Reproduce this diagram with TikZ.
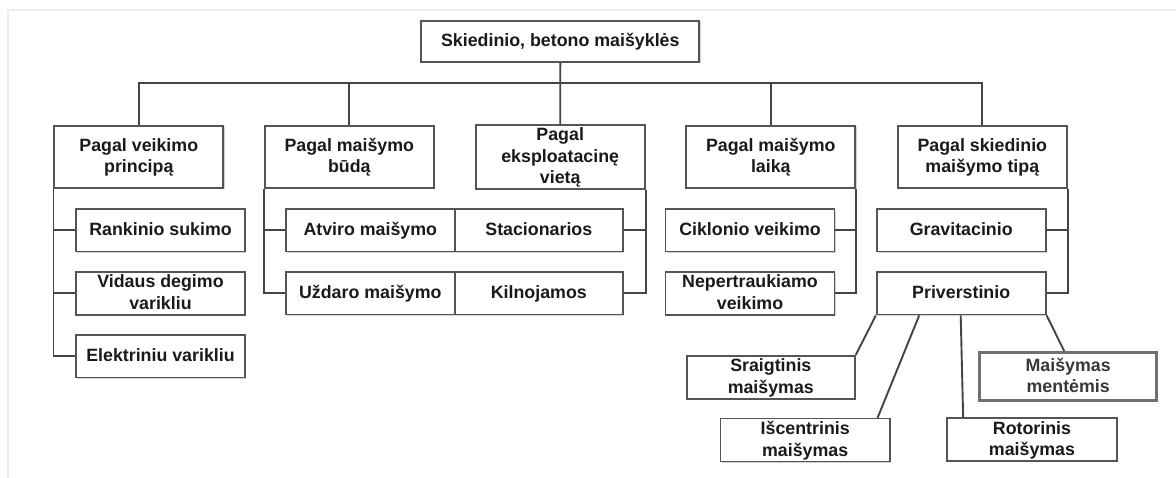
\documentclass[tikz,border=0pt]{standalone}
\usepackage{fontspec}
\setmainfont{Liberation Sans}
\usetikzlibrary{calc,shadows}
\definecolor{boxc}{HTML}{555555}
\definecolor{linec}{HTML}{444444}
\definecolor{txt}{HTML}{1A1A1A}
\definecolor{framec}{HTML}{EEEEEE}
\definecolor{mentc}{HTML}{707070}
\newcommand\mystrut{\rule[-5.4pt]{0pt}{21.4pt}}
\begin{document}
\begin{tikzpicture}[x=1pt,y=-1pt,
  box/.style={draw=boxc, line width=1.7pt, fill=white, text=txt,
    font=\fontsize{17.8pt}{21.4pt}\selectfont\bfseries, align=center,
    inner sep=0pt, minimum height=42.5pt, minimum width=169pt,
    drop shadow={shadow xshift=1.2pt, shadow yshift=-1.2pt, opacity=0.18, fill=black}},
  tall/.style={minimum height=62.6pt},
  conn/.style={draw=linec, line width=1.9pt},
  framestyle/.style={draw=framec, line width=1.5pt}
]
\useasboundingbox[fill=white] (0,0) rectangle (1176,478);
% faint frame
\coordinate (fa) at (8,10);
\coordinate (fb) at (1176,10);
\coordinate (fc) at (8,478);
\draw[framestyle] (fb) -- (fa) -- (fc);

% root
\node[box, minimum width=278pt, minimum height=41.6pt] (root) at (560.3,41.5) {\mystrut Skiedinio, betono maišyklės};

% level 1
\node[box, tall] (b1) at (138.8,157) {\mystrut Pagal veikimo\\\mystrut principą};
\node[box, tall] (b2) at (349.3,157) {\mystrut Pagal maišymo\\\mystrut būdą};
\node[box, tall] (b3) at (560.2,157) {\mystrut Pagal\\\mystrut eksploatacinę\\\mystrut vietą};
\node[box, tall] (b4) at (770.8,157) {\mystrut Pagal maišymo\\\mystrut laiką};
\node[box, tall] (b5) at (982.3,157) {\mystrut Pagal skiedinio\\\mystrut maišymo tipą};

% level 2
\node[box] (rank) at (160.5,230.3) {\mystrut Rankinio sukimo};
\node[box] (vid)  at (160.5,293.3) {\mystrut Vidaus degimo\\\mystrut varikliu};
\node[box] (elek) at (160.5,356.3) {\mystrut Elektriniu varikliu};

\node[box, minimum width=168.7pt] (atv) at (370.3,230.3) {\mystrut Atviro maišymo};
\node[box, minimum width=168.7pt] (uzd) at (370.3,293.3) {\mystrut Uždaro maišymo};
\node[box, minimum width=168.3pt] (stac) at (538.8,230.3) {\mystrut Stacionarios};
\node[box, minimum width=168.3pt] (kiln) at (538.8,293.3) {\mystrut Kilnojamos};

\node[box] (cikl) at (750,230.3) {\mystrut Ciklonio veikimo};
\node[box] (nep)  at (750,293.3) {\mystrut Nepertraukiamo\\\mystrut veikimo};

\node[box] (grav) at (961.2,230.3) {\mystrut Gravitacinio};
\node[box] (priv) at (961.2,293.3) {\mystrut Priverstinio};

% level 3
\node[box, minimum width=168.3pt, minimum height=43pt] (sraig) at (770.8,377.2) {\mystrut Sraigtinis\\\mystrut maišymas};
\node[box, minimum width=169.7pt] (isc) at (805.2,440) {\mystrut Išcentrinis\\\mystrut maišymas};
\node[box, minimum width=169.4pt, minimum height=42pt] (rot) at (1032,439.7) {\mystrut Rotorinis\\\mystrut maišymas};
\node[box, draw=mentc, line width=2.8pt, minimum width=177pt, minimum height=48.4pt,
  text=black!78] (ment) at (1068.2,376.5) {\mystrut Maišymas\\\mystrut mentėmis};

% bus
\coordinate (busy) at (0,83.3);
\draw[conn] (b1.north) -- (b1.north |- busy) -- (b5.north |- busy) -- (b5.north);
\draw[conn] (b2.north) -- (b2.north |- busy);
\draw[conn] (b4.north) -- (b4.north |- busy);
\draw[conn] (root.south) -- (b3.north);

% trunks
\draw[conn] (b1.south west) |- (elek.west);
\draw[conn] (b1.south west |- rank.west) -- (rank.west);
\draw[conn] (b1.south west |- vid.west) -- (vid.west);

\draw[conn] (b2.south west) |- (uzd.west);
\draw[conn] (b2.south west |- atv.west) -- (atv.west);

\draw[conn] (b3.south east) |- (kiln.east);
\draw[conn] (b3.south east |- stac.east) -- (stac.east);

\draw[conn] (b4.south east) |- (nep.east);
\draw[conn] (b4.south east |- cikl.east) -- (cikl.east);

\draw[conn] (b5.south east) |- (priv.east);
\draw[conn] (b5.south east |- grav.east) -- (grav.east);

% priverstinio branches
\draw[conn] (priv.south west) -- (sraig.north east);
\draw[conn] ($(priv.south)+(-42,0)$) -- ($(isc.north east)+(-13.3,0)$);
\draw[conn] ($(priv.south)+(-0.5,0)$) -- ($(rot.north west)+(16.7,0)$);
\draw[conn] (priv.south east) -- ($(ment.north)+(-4,0)$);
\end{tikzpicture}
\end{document}
